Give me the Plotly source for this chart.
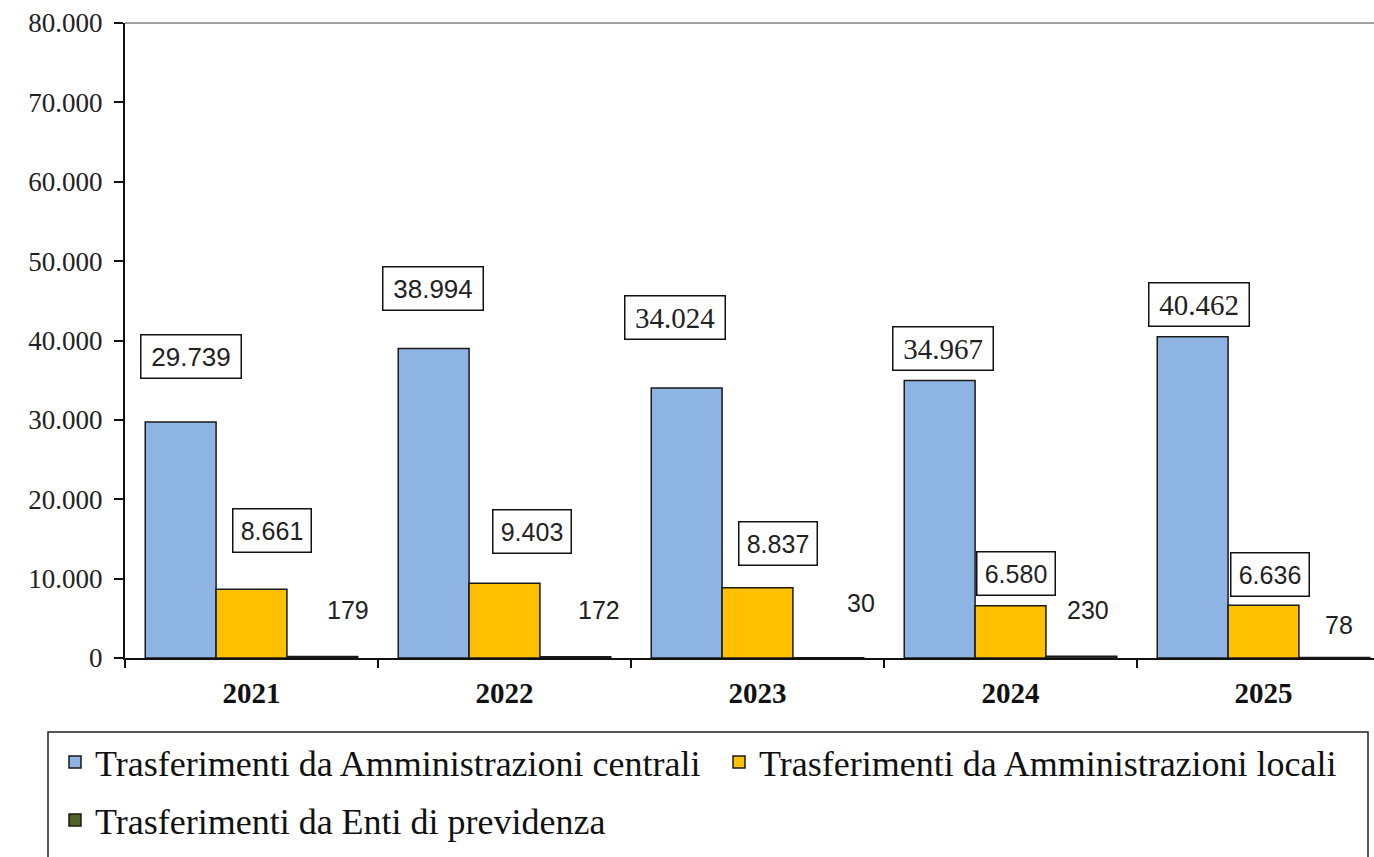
import plotly.graph_objects as go

# ---------------- data ----------------
years = ["2021", "2022", "2023", "2024", "2025"]
centrali = [29739, 38994, 34024, 34967, 40462]
locali = [8661, 9403, 8837, 6580, 6636]
previdenza = [179, 172, 30, 230, 78]
series_names = [
    "Trasferimenti da Amministrazioni centrali",
    "Trasferimenti da Amministrazioni locali",
    "Trasferimenti da Enti di previdenza",
]
y_ticks = [0, 10000, 20000, 30000, 40000, 50000, 60000, 70000, 80000]

# ---------------- style ----------------
colors = ["#8EB4E3", "#FFC000", "#4F6228"]
outline = "#1a1a1a"
bargap = 0.16
legend_ids = ["legend", "legend2", "legend3"]

# label offsets in pixels (dx, dy above bar top) — manual placement as in the source
blue_dx = [10, -1, -12, 3, 6]
blue_dy = [65, 60, 70, 32, 32]
blue_fonts = ["Liberation Sans", "Liberation Sans", "Liberation Serif", "Liberation Serif", "Liberation Serif"]
yel_dx = [20, 27, 20, 5, 6]
yel_dy = [59, 52, 44, 32, 31]
dark_dx = [26, 24, 33, 7, 5]
dark_dy = [47, 47, 55, 46, 32]


def fmt(v):
    return f"{v:,}".replace(",", ".")


fig = go.Figure()
for name, vals, col, lg in zip(series_names, [centrali, locali, previdenza], colors, legend_ids):
    fig.add_trace(go.Bar(
        name=name, x=years, y=vals, legend=lg,
        marker=dict(color=col, line=dict(color=outline, width=1.5)),
    ))

bw = (1 - bargap) / 3
annotations = []
for k in range(len(years)):
    f = blue_fonts[k]
    annotations.append(dict(
        x=k - bw, y=centrali[k], xref="x", yref="y", text=fmt(centrali[k]),
        showarrow=False, xshift=blue_dx[k], yshift=blue_dy[k],
        font=dict(family=f, size=26 if "Sans" in f else 29, color="#222"),
        bordercolor="#111", borderwidth=1.5, borderpad=0, bgcolor="white",
        width=99, height=42, align="center", valign="middle",
    ))
    annotations.append(dict(
        x=k, y=locali[k], xref="x", yref="y", text=fmt(locali[k]),
        showarrow=False, xshift=yel_dx[k], yshift=yel_dy[k],
        font=dict(family="Liberation Sans", size=25, color="#222"),
        bordercolor="#111", borderwidth=1.5, borderpad=0, bgcolor="white",
        width=77, height=42, align="center", valign="middle",
    ))
    annotations.append(dict(
        x=k + bw, y=previdenza[k], xref="x", yref="y", text=fmt(previdenza[k]),
        showarrow=False, xshift=dark_dx[k], yshift=dark_dy[k],
        font=dict(family="Liberation Sans", size=25, color="#222"),
    ))

shapes = [
    dict(type="line", xref="paper", yref="paper", x0=0, x1=1, y0=1, y1=1,
         line=dict(color="#7f7f7f", width=1.5)),
    dict(type="rect", xref="paper", yref="paper",
         x0=(48 - 125) / 1249, x1=(1368 - 125) / 1249,
         y0=-(732 - 658) / 635, y1=-(920 - 658) / 635,
         line=dict(color="#222", width=1.5), fillcolor="rgba(0,0,0,0)"),
]

legend_common = dict(
    orientation="h", xanchor="left", yanchor="middle",
    font=dict(family="Liberation Serif", size=36, color="#111"),
    itemwidth=30, traceorder="normal",
    bgcolor="rgba(0,0,0,0)", borderwidth=0,
)

fig.update_layout(
    width=1374, height=857,
    margin=dict(l=125, r=0, t=23, b=199),
    paper_bgcolor="white", plot_bgcolor="white",
    barmode="group", bargap=bargap, bargroupgap=0,
    separators=",.",
    showlegend=True,
    legend=dict(x=(55 - 125) / 1249, y=-(762 - 658) / 635, **legend_common),
    legend2=dict(x=(719 - 125) / 1249, y=-(762 - 658) / 635, **legend_common),
    legend3=dict(x=(55 - 125) / 1249, y=-(820 - 658) / 635, **legend_common),
    annotations=annotations,
    shapes=shapes,
    xaxis=dict(
        type="category", range=[-0.5, -0.5 + 1249 / 253],
        showline=True, linecolor="#111", linewidth=2,
        ticks="outside", tickson="boundaries", ticklen=8, tickwidth=1.5, tickcolor="#111",
        tickfont=dict(family="Liberation Serif", size=29, color="#111", weight="bold"),
        ticklabelstandoff=8,
        showgrid=False, zeroline=False, fixedrange=True,
    ),
    yaxis=dict(
        range=[0, 80000], tickvals=y_ticks, tickformat=",.0f",
        showline=True, linecolor="#111", linewidth=2,
        ticks="outside", ticklen=9, tickwidth=1.5, tickcolor="#111",
        tickfont=dict(family="Liberation Serif", size=27, color="#222"),
        ticklabelstandoff=6,
        showgrid=False, zeroline=False, fixedrange=True,
    ),
)

fig.write_html(
    "out.html",
    config={"displayModeBar": False},
    post_script="document.body.style.margin='0';document.body.style.overflow='hidden';",
)
